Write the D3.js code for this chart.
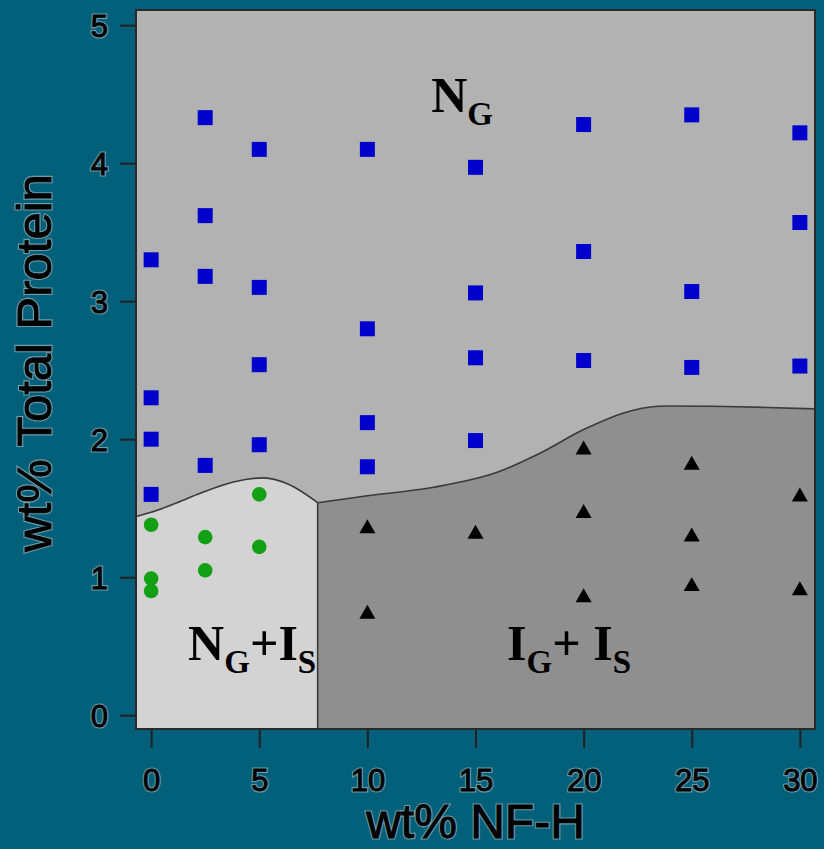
<!DOCTYPE html>
<html>
<head>
<meta charset="utf-8">
<script src="https://cdn.jsdelivr.net/npm/d3@7"></script>
<style>
  html, body { margin: 0; padding: 0; background: #03607a; }
  svg { display: block; }
  .lbl { font-family: "Liberation Sans", Arial, sans-serif; fill: #000;
         stroke: #000; stroke-width: 0.9px; }
  .halo { font-family: "Liberation Sans", Arial, sans-serif; fill: none;
          stroke: rgba(215,215,215,0.5); stroke-width: 3.2px; }
  .region { font-family: "Liberation Serif", "Times New Roman", serif; font-weight: bold; fill: #000; }
</style>
</head>
<body>
<svg id="chart" width="824" height="849"></svg>
<script>
// x ticks and y ticks
const xTicks = [0, 5, 10, 15, 20, 25, 30];
const yTicks = [0, 1, 2, 3, 4, 5];

// N_G (blue squares)
const ngX = [0, 0, 0, 0, 2.5, 2.5, 2.5, 2.5, 5, 5, 5, 5, 10, 10, 10, 10, 15, 15, 15, 15, 20, 20, 20, 25, 25, 25, 30, 30, 30];
const ngY = [3.30, 2.30, 2.00, 1.60, 4.33, 3.62, 3.18, 1.81, 4.10, 3.10, 2.54, 1.96, 4.10, 2.80, 2.12, 1.80, 3.97, 3.06, 2.59, 1.99, 4.28, 3.36, 2.57, 4.35, 3.07, 2.52, 4.22, 3.57, 2.53];

// N_G + I_S (green circles)
const nisX = [0, 0, 0, 2.5, 2.5, 5, 5];
const nisY = [1.38, 0.99, 0.90, 1.29, 1.05, 1.60, 1.22];

// I_G + I_S (black triangles)
const iisX = [10, 10, 15, 20, 20, 20, 25, 25, 25, 30, 30];
const iisY = [1.36, 0.74, 1.32, 1.93, 1.47, 0.86, 1.82, 1.30, 0.94, 1.59, 0.91];

// phase boundaries
const splitX = 7.7;
const leftEdgeX = [-0.7, 0, 1.2, 2.3, 3.8, 5.2, 6.4, 7.7];
const leftEdgeY = [1.44, 1.47, 1.54, 1.61, 1.69, 1.72, 1.67, 1.54];
const rightEdgeX = [7.7, 10, 13, 16, 18, 20, 22.3, 23.8, 28.5, 30.7];
const rightEdgeY = [1.54, 1.59, 1.65, 1.76, 1.90, 2.07, 2.21, 2.24, 2.23, 2.22];

const svg = d3.select('#chart');
const x0 = 136, x1 = 815, y0 = 10, y1 = 729;

const x = d3.scaleLinear().domain([-0.7, 30.7]).range([x0, x1]);
const y = d3.scaleLinear().domain([-0.1, 5.11]).range([y1, y0]);

// N_G region (whole plot)
svg.append('rect')
  .attr('x', x0).attr('y', y0)
  .attr('width', x1 - x0).attr('height', y1 - y0)
  .attr('fill', '#b2b2b2');

const line = d3.line().x(d => x(d[0])).y(d => y(d[1])).curve(d3.curveMonotoneX);
const leftPts = leftEdgeX.map((v, i) => [v, leftEdgeY[i]]);
const rightPts = rightEdgeX.map((v, i) => [v, rightEdgeY[i]]);
const yMin = y.domain()[0];

// N_G + I_S region
svg.append('path')
  .attr('d', line(leftPts) + `L${x(splitX)},${y(yMin)}L${x(-0.7)},${y(yMin)}Z`)
  .attr('fill', '#d3d3d3');

// I_G + I_S region
svg.append('path')
  .attr('d', line(rightPts) + `L${x(30.7)},${y(yMin)}L${x(splitX)},${y(yMin)}Z`)
  .attr('fill', '#8f8f8f');

// boundary lines
[leftPts, rightPts].forEach(p => {
  svg.append('path').attr('d', line(p))
    .attr('fill', 'none').attr('stroke', '#3a3a3a').attr('stroke-width', 1.6);
});
svg.append('line')
  .attr('x1', x(splitX)).attr('x2', x(splitX))
  .attr('y1', y(leftEdgeY[leftEdgeY.length - 1])).attr('y2', y1)
  .attr('stroke', '#3a3a3a').attr('stroke-width', 1.6);

// markers
const sq = d3.symbol().type(d3.symbolSquare).size(225)();
const tri = d3.symbol().type(d3.symbolTriangle).size(112)();

svg.append('g').selectAll('path')
  .data(ngX.map((v, i) => [v, ngY[i]]))
  .join('path')
  .attr('d', sq)
  .attr('transform', d => `translate(${x(d[0])},${y(d[1])})`)
  .attr('fill', '#0000cc');

svg.append('g').selectAll('circle')
  .data(nisX.map((v, i) => [v, nisY[i]]))
  .join('circle')
  .attr('cx', d => x(d[0])).attr('cy', d => y(d[1]))
  .attr('r', 7.3)
  .attr('fill', '#14a014');

svg.append('g').selectAll('path')
  .data(iisX.map((v, i) => [v, iisY[i]]))
  .join('path')
  .attr('d', tri)
  .attr('transform', d => `translate(${x(d[0])},${y(d[1]) + 1})`)
  .attr('fill', '#000');

// frame
svg.append('rect')
  .attr('x', x0).attr('y', y0)
  .attr('width', x1 - x0).attr('height', y1 - y0)
  .attr('fill', 'none').attr('stroke', '#2a2a2a').attr('stroke-width', 2);

// axes
const yAxis = svg.append('g')
  .attr('transform', `translate(${x0 - 1},0)`)
  .call(d3.axisLeft(y).tickValues(yTicks).tickFormat(d3.format('d'))
    .tickSize(15).tickPadding(12).tickSizeOuter(0));
const xAxis = svg.append('g')
  .attr('transform', `translate(0,${y1 + 1})`)
  .call(d3.axisBottom(x).tickValues(xTicks).tickFormat(d3.format('d'))
    .tickSize(18).tickPadding(21).tickSizeOuter(0));

[xAxis, yAxis].forEach(g => {
  g.select('.domain').remove();
  g.selectAll('.tick line').attr('stroke', '#222').attr('stroke-width', 2);
  g.selectAll('.tick text').attr('class', 'lbl')
    .attr('font-size', 31).attr('fill', '#000');
  // soft light halo behind each label
  g.selectAll('.tick').each(function() {
    const t = d3.select(this).select('text');
    d3.select(this).insert(() => t.node().cloneNode(true), 'text').attr('class', 'halo');
  });
});
yAxis.selectAll('.tick text').attr('dy', '0.36em');

// axis titles
function title(sel) {
  ['halo', 'lbl'].forEach(c => sel(svg.append('text').attr('class', c)));
}
title(t => t.attr('x', (x0 + x1) / 2).attr('y', 838)
  .attr('text-anchor', 'middle').attr('font-size', 48)
  .text('wt% NF-H'));
title(t => t.attr('transform', 'translate(51,363) rotate(-90)')
  .attr('text-anchor', 'middle').attr('font-size', 49)
  .text('wt% Total Protein'));

// region labels
function regionLabel(px, py, parts) {
  const t = svg.append('text').attr('class', 'region')
    .attr('x', x(px)).attr('y', y(py)).attr('font-size', 50);
  parts.forEach(p => {
    t.append('tspan')
      .attr('font-size', p.sub ? 33 : 50)
      .attr('dy', p.sub ? 13 : (p.back ? -13 : 0))
      .text(p.t);
  });
}
regionLabel(12.95, 4.37, [{t: 'N'}, {t: 'G', sub: true}]);
regionLabel(1.71, 0.40, [{t: 'N'}, {t: 'G', sub: true}, {t: '+I', back: true}, {t: 'S', sub: true}]);
regionLabel(16.46, 0.40, [{t: 'I'}, {t: 'G', sub: true}, {t: '+ I', back: true}, {t: 'S', sub: true}]);
</script>
</body>
</html>
